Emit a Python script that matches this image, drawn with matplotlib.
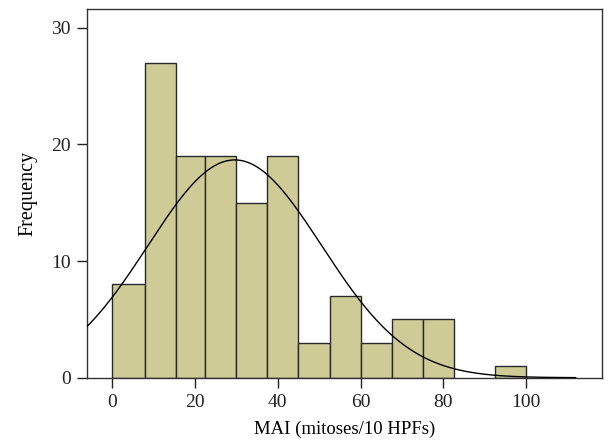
import numpy as np
import matplotlib
matplotlib.use("Agg")
import matplotlib.pyplot as plt

# Histogram bins (left edges, right edges) and counts
bin_left = [0, 8, 15.5, 22.5, 30, 37.5, 45, 52.5, 60, 67.5, 75, 92.5]
bin_right = [8, 15.5, 22.5, 30, 37.5, 45, 52.5, 60, 67.5, 75, 82.5, 100]
counts = [8, 27, 19, 19, 15, 19, 3, 7, 3, 5, 5, 1]

# Fitted normal curve parameters
fit_mean = 29.6
fit_sd = 21.0
fit_n = 131
fit_binwidth = 7.5
curve_range = (-6.5, 112)

x_ticks = [0, 20, 40, 60, 80, 100]
y_ticks = [0, 10, 20, 30]

plt.rcParams['font.family'] = ['Liberation Serif', 'DejaVu Serif']

fig = plt.figure(figsize=(6.08, 4.46), dpi=100)
ax = fig.add_axes([0.1426, 0.1531, 0.8470, 0.8260])

lefts = np.array(bin_left)
widths = np.array(bin_right) - lefts
ax.bar(lefts, counts, width=widths, align='edge', color='#cfcb97',
       edgecolor='#2a2a2a', linewidth=1.0, zorder=2)

xs = np.linspace(curve_range[0], curve_range[1], 400)
ys = fit_n * fit_binwidth / (fit_sd * np.sqrt(2 * np.pi)) * np.exp(-0.5 * ((xs - fit_mean) / fit_sd) ** 2)
ax.plot(xs, ys, color='black', linewidth=1.0, zorder=3)

ax.set_xlim(-6.2, 118.3)
ax.set_ylim(0, 31.57)
ax.set_xticks(x_ticks)
ax.set_yticks(y_ticks)
ax.tick_params(direction='out', length=7.5, width=1, labelsize=14, colors='#222222')
ax.tick_params(axis='x', pad=4)
ax.tick_params(axis='y', pad=4)
for s in ax.spines.values():
    s.set_color('#333333')
    s.set_linewidth(1.0)

ax.set_xlabel('MAI (mitoses/10 HPFs)', fontsize=13.5, labelpad=7)
ax.set_ylabel('Frequency', fontsize=14.5, labelpad=10)

fig.savefig('out.png', dpi=100)
